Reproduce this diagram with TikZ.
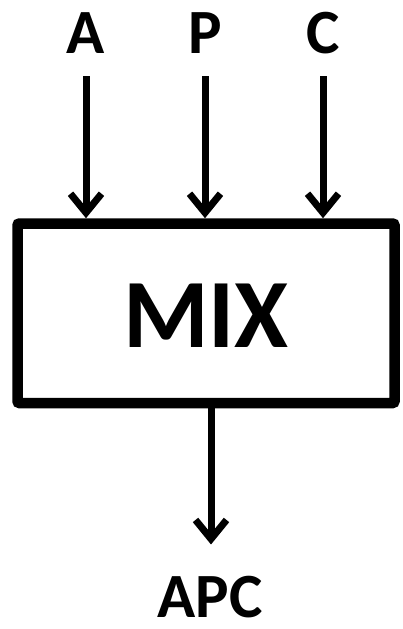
\documentclass[tikz,border=0pt]{standalone}
\usepackage{fontspec}
\setmainfont{Carlito}
\usetikzlibrary{arrows.meta}
\begin{document}
\begin{tikzpicture}[x=1pt,y=-1pt,
  lbl/.style={font=\bfseries\fontsize{63}{63}\selectfont, inner sep=0pt, anchor=base},
  flow/.style={line width=7pt, -{Straight Barb[length=19pt,width=31pt,line width=7pt]}},
  mixbox/.style={draw, line width=10.5pt, rounded corners=2pt, minimum width=377pt,
                 minimum height=179.5pt, inner sep=0pt}]
  \useasboundingbox (0,0) rectangle (402,629);
  % inputs
  \node[lbl] (A) at (86,53) {A};
  \node[lbl] (P) at (205,53) {P};
  \node[lbl] (C) at (323,53) {C};
  % mixing block
  \node[mixbox] (box) at (206,313.25) {};
  \node[font=\bfseries\fontsize{98}{98}\selectfont, inner sep=0pt] (mix) at (206,316) {MIX};
  % output
  \node[lbl] (apc) at (210,617) {APC};
  % connectors
  \draw[flow, shorten <=23pt] (A.base) -- (A.base |- box.north);
  \draw[flow, shorten <=23pt] (P.base) -- (P.base |- box.north);
  \draw[flow, shorten <=23pt] (C.base) -- (C.base |- box.north);
  \draw[flow, shorten >=31pt] ([xshift=5pt]box.south) -- ([xshift=5pt]box.south |- apc.north);
\end{tikzpicture}
\end{document}
